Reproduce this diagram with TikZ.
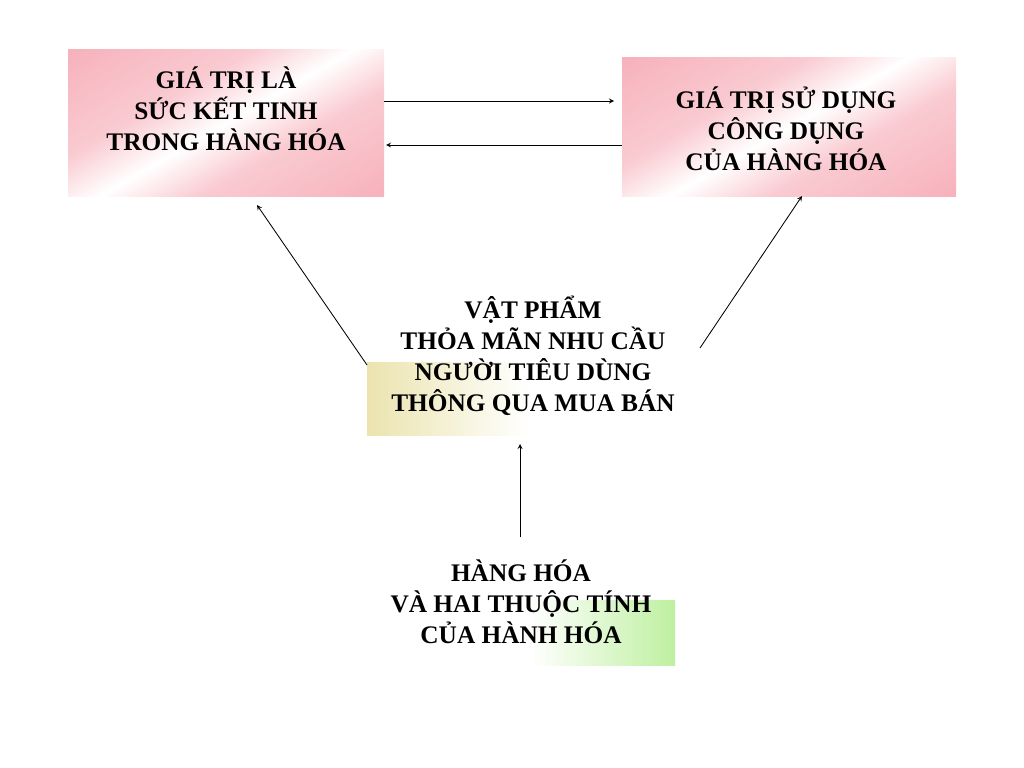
\documentclass[tikz,border=0pt]{standalone}
\usepackage{fontspec}
\setmainfont{Liberation Serif}
\usetikzlibrary{positioning}
\definecolor{rosa}{RGB}{245,160,172}
\definecolor{senf}{RGB}{235,228,175}
\definecolor{gruen}{RGB}{190,240,160}
\pgfdeclarehorizontalshading{rosaband}{100bp}{color(0bp)=(rosa); color(38bp)=(rosa!55); color(50bp)=(white); color(62bp)=(rosa!55); color(100bp)=(rosa)}
\tikzset{
  txt/.style={align=center, font=\bfseries\fontsize{18}{22}\selectfont, inner sep=0pt},
}
\begin{document}
\begin{tikzpicture}[x=0.025cm,y=-0.025cm,>=stealth]
\useasboundingbox (0,0) rectangle (1024,768);

% Hintergruende
\shade[shading=rosaband, shading angle=-60] (68,50) rectangle (384,196);
\shade[shading=rosaband, shading angle=-60] (622,58) rectangle (956,196);
\shade[left color=senf, right color=white] (367,362) rectangle (530,435);
\shade[left color=white, right color=gruen] (530,600) rectangle (675,665);

% Kaesten
\node[txt] (wert) at (226,109) {GIÁ TRỊ LÀ\\SỨC KẾT TINH\\TRONG HÀNG HÓA};
\node[txt] (nutz) at (786,129) {GIÁ TRỊ SỬ DỤNG\\CÔNG DỤNG\\CỦA HÀNG HÓA};
\node[txt] (ding) at (533,356) {VẬT PHẨM\\THỎA MÃN NHU CẦU\\NGƯỜI TIÊU DÙNG\\THÔNG QUA MUA BÁN};
\node[txt] (ware) at (521,602) {HÀNG HÓA\\VÀ HAI THUỘC TÍNH\\CỦA HÀNH HÓA};

% Pfeile
\coordinate (a1) at (384,101); \coordinate (a2) at (614,101);
\coordinate (b1) at (622,145); \coordinate (b2) at (386,145);
\coordinate (c1) at (367,365); \coordinate (c2) at (257,205);
\coordinate (d1) at (700,348); \coordinate (d2) at (802,196);
\coordinate (e1) at (520,537); \coordinate (e2) at (520,444);
\draw[->, semithick] (a1) -- (a2);
\draw[->, semithick] (b1) -- (b2);
\draw[->, semithick] (c1) -- (c2);
\draw[->, semithick] (d1) -- (d2);
\draw[->, semithick] (e1) -- (e2);

\end{tikzpicture}
\end{document}
